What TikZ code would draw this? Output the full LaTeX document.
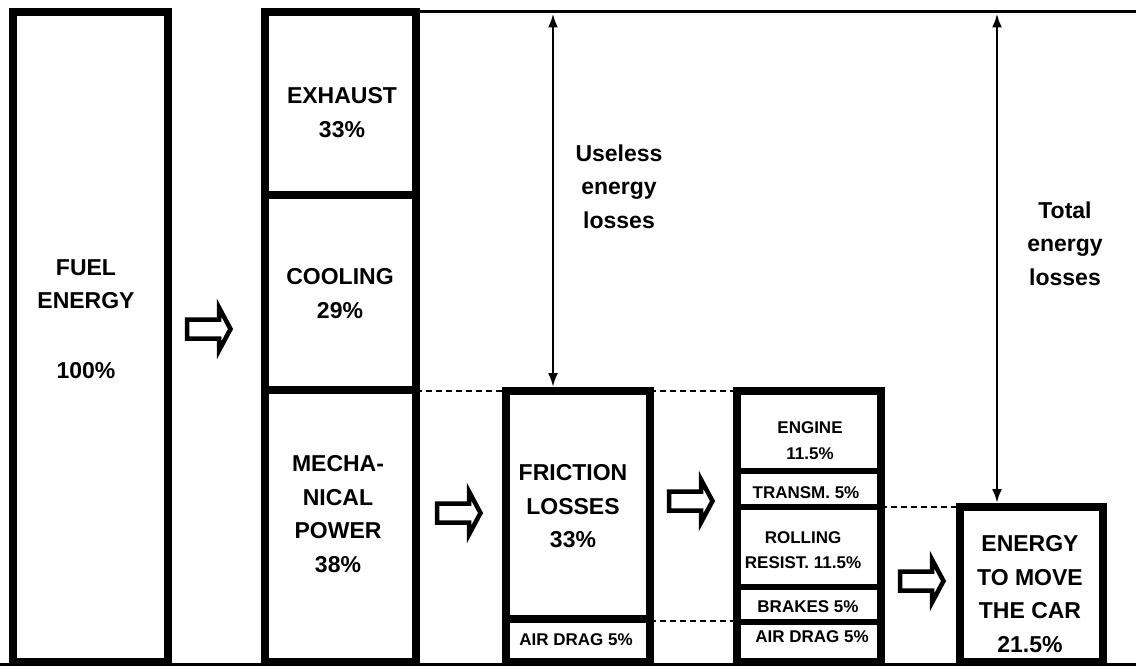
\documentclass[tikz,border=0pt]{standalone}
\usepackage{fontspec}
\setmainfont{Liberation Sans}
\usetikzlibrary{arrows.meta,positioning}

\tikzset{
  bar/.style={draw, line width=8pt, inner sep=0pt, outer sep=0pt},
  big/.style={font=\bfseries\fontsize{23}{33.5}\selectfont, align=center},
  small/.style={font=\bfseries\fontsize{17}{25.5}\selectfont, align=center},
  gap/.style={dash pattern=on 6pt off 4pt, line width=2pt},
  span/.style={{Latex[length=14pt,width=10pt]}-{Latex[length=14pt,width=10pt]}, line width=2.5pt},
  fatarrow/.pic={\draw[line width=4.5pt] (0,-9.5) -- (32,-9.5) -- (32,-21.5) -- (43.5,0) -- (32,21.5) -- (32,9.5) -- (0,9.5) -- cycle;}
}

\begin{document}
\begin{tikzpicture}[x=1pt, y=-1pt]
  \useasboundingbox (0,0) rectangle (1136,666);

  % the five columns
  \node[bar, minimum width=155pt, minimum height=650pt] (fuel) at (90.5,337) {};
  \node[bar, minimum width=150.5pt, minimum height=650pt] (losses) at (340.25,337) {};
  \node[bar, minimum width=144pt, minimum height=271pt] (friction) at (578,526.5) {};
  \node[bar, minimum width=144pt, minimum height=271pt] (parts) at (809,526.5) {};
  \node[bar, minimum width=143pt, minimum height=155pt] (move) at (1031.5,584.5) {};

  % dividers
  \draw[line width=8pt] (losses.west |- 0,195) -- (losses.east |- 0,195);
  \draw[line width=8pt] (losses.west |- 0,390) -- (losses.east |- 0,390);
  \draw[line width=8pt] (friction.west |- 0,619) -- (friction.east |- 0,619);
  \foreach \y in {471,506.5,586.5,622}
    \draw[line width=6pt] (parts.west |- 0,\y) -- (parts.east |- 0,\y);

  % ground and top lines
  \draw[line width=3pt] (0,664.5) -- (1136,664.5);
  \draw[line width=3pt] (losses.north east) -- (1136,12);

  % dashed levels
  \draw[gap] (losses.east |- friction.north) -- (friction.north west);
  \draw[gap] (friction.north east) -- (parts.north west);
  \draw[gap] (friction.east |- 0,621) -- (parts.west |- 0,621);
  \draw[gap] (parts.east |- move.north) -- (move.north west);

  % loss spans
  \coordinate (usetop) at (553,13.5);
  \coordinate (tottop) at (997,13.5);
  \draw[span, shorten >=4pt] (usetop) -- (usetop |- friction.north);
  \draw[span, shorten >=4pt] (tottop) -- (tottop |- move.north);

  % flow arrows
  \pic at (187,329) {fatarrow};
  \pic at (437,513) {fatarrow};
  \pic at (669,501) {fatarrow};
  \pic at (900,581) {fatarrow};

  % labels
  \node[big] (fueltxt) at (86,319) {FUEL\\ENERGY\\[36.5pt]100\%};
  \node[big] (exhtxt) at (342,112.5) {EXHAUST\\33\%};
  \node[big] (cooltxt) at (340,293.5) {COOLING\\29\%};
  \node[big] (mechtxt) at (338,514) {MECHA-\\NICAL\\POWER\\38\%};
  \node[big] (usetxt) at (619,186.5) {Useless\\energy\\losses};
  \node[big] (tottxt) at (1065,243.5) {Total\\energy\\losses};
  \node[big] (frictxt) at (573,506.5) {FRICTION\\LOSSES\\33\%};
  \node[small] (dragA) at (576,640) {AIR DRAG 5\%};
  \node[small] (engtxt) at (810,440.5) {ENGINE\\11.5\%};
  \node[small] (trantxt) at (806,493) {TRANSM. 5\%};
  \node[small] (rolltxt) at (803,550) {ROLLING\\RESIST. 11.5\%};
  \node[small] (braketxt) at (808,607) {BRAKES 5\%};
  \node[small] (dragB) at (812,637) {AIR DRAG 5\%};
  \node[big] (movetxt) at (1030,594) {ENERGY\\TO MOVE\\THE CAR\\21.5\%};
\end{tikzpicture}
\end{document}
